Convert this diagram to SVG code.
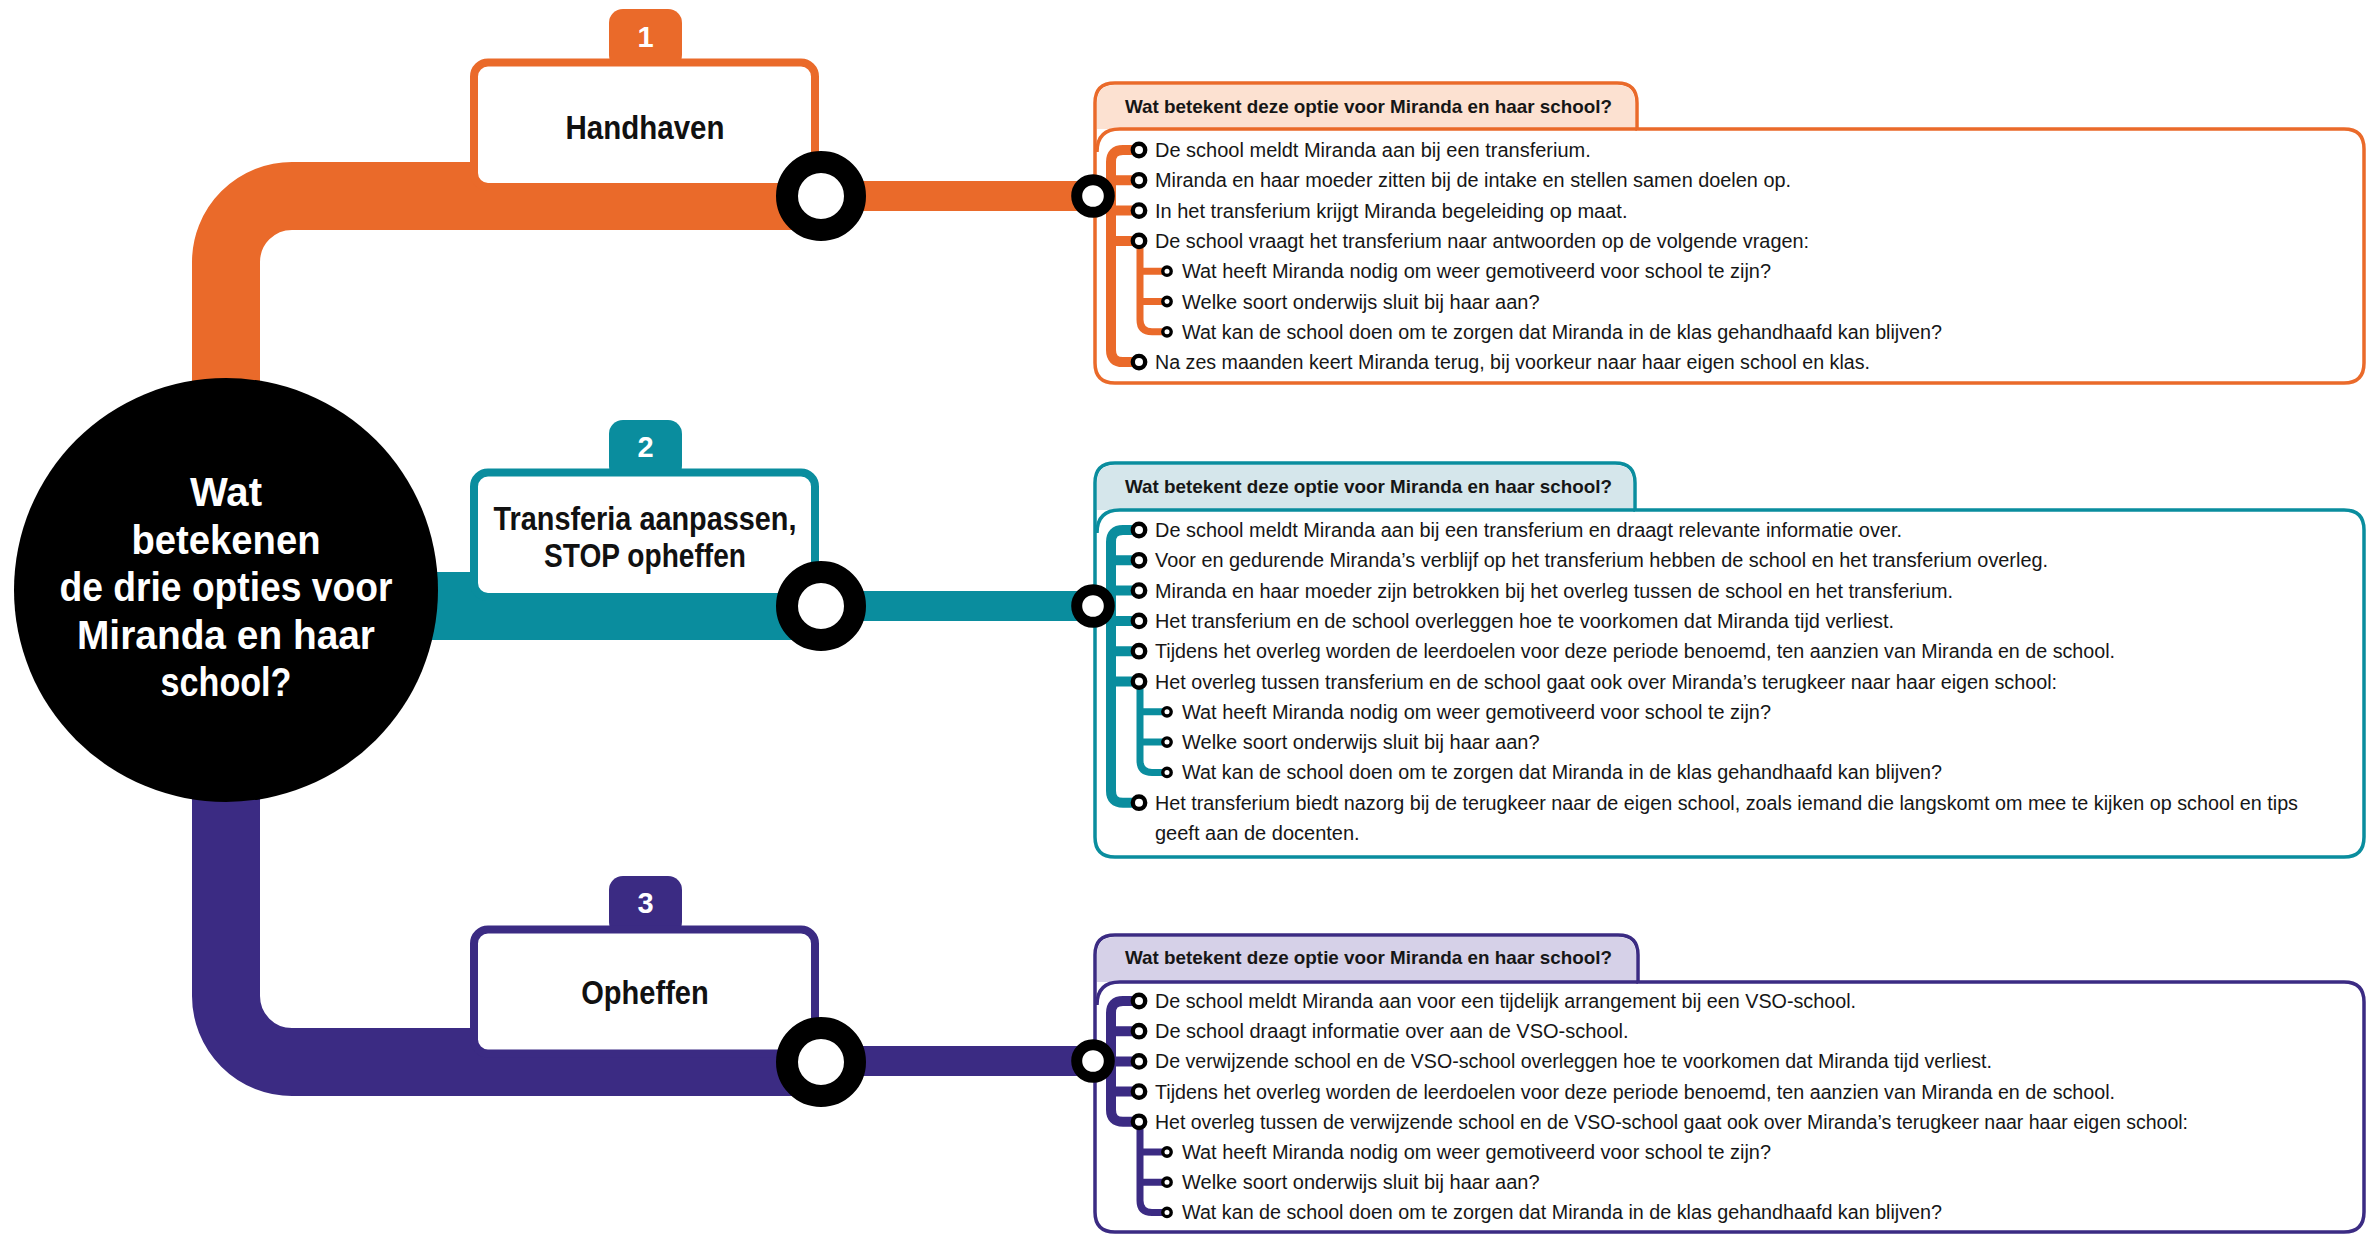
<svg xmlns="http://www.w3.org/2000/svg" width="2378" height="1234" viewBox="0 0 2378 1234">
<style>
.t{font-family:"Liberation Sans",Arial,sans-serif;font-size:20px;fill:#161616}
.h{font-family:"Liberation Sans",Arial,sans-serif;font-size:19px;font-weight:bold;fill:#161616}
.ttl{font-family:"Liberation Sans",Arial,sans-serif;font-size:33px;font-weight:bold;fill:#111;text-anchor:middle}
.ct{font-family:"Liberation Sans",Arial,sans-serif;font-size:41px;font-weight:bold;fill:#fff;text-anchor:middle}
.num{font-family:"Liberation Sans",Arial,sans-serif;font-size:29px;font-weight:bold;fill:#fff;text-anchor:middle}
.b{fill:#fff;stroke:#000;stroke-width:4.4}
.s{fill:#fff;stroke:#000;stroke-width:3.4}
.big{fill:#fff;stroke:#000;stroke-width:22}
.sm{fill:#fff;stroke:#000;stroke-width:11}
.br{fill:none;stroke-width:10;stroke-linecap:butt}
.sbr{fill:none;stroke-width:7}
.or{stroke:#EA6A2A}.te{stroke:#0A8D9E}.pu{stroke:#3B2B83}
.box{fill:#fff;stroke-width:8}
.pan{fill:#fff;stroke-width:3.5}
.pipe{fill:none;stroke-width:68}
.thin{fill:none;stroke-width:30}
</style>

<g id="connectors">
  <path class="pipe or" d="M226,430 V262 A66,66 0 0 1 292,196 H821"/>
  <path class="pipe te" d="M380,606 H821"/>
  <path class="pipe pu" d="M226,760 V996 A66,66 0 0 0 292,1062 H821"/>
  <path class="thin or" d="M821,196 H1093"/>
  <path class="thin te" d="M821,606 H1093"/>
  <path class="thin pu" d="M821,1061 H1093"/>
</g>

<g id="center">
  <circle cx="226" cy="590" r="212" fill="#000"/>
  <text class="ct" x="226" y="506" textLength="72" lengthAdjust="spacingAndGlyphs">Wat</text>
  <text class="ct" x="226" y="553.5" textLength="189" lengthAdjust="spacingAndGlyphs">betekenen</text>
  <text class="ct" x="226" y="601" textLength="333" lengthAdjust="spacingAndGlyphs">de drie opties voor</text>
  <text class="ct" x="226" y="648.5" textLength="298" lengthAdjust="spacingAndGlyphs">Miranda en haar</text>
  <text class="ct" x="226" y="696" textLength="131" lengthAdjust="spacingAndGlyphs">school?</text>
</g>

<g id="option1">
  <rect x="609" y="9" width="73" height="60" rx="14" fill="#EA6A2A"/>
  <text class="num" x="645.5" y="46.5">1</text>
  <rect class="box or" x="474" y="62.5" width="341" height="124.5" rx="14"/>
  <text class="ttl" x="645" y="139" textLength="159" lengthAdjust="spacingAndGlyphs">Handhaven</text>
</g>

<g id="option2">
  <rect x="609" y="420" width="73" height="60" rx="14" fill="#0A8D9E"/>
  <text class="num" x="645.5" y="456.5">2</text>
  <rect class="box te" x="474" y="472.5" width="341" height="124.5" rx="14"/>
  <text class="ttl" x="645" y="530" textLength="303" lengthAdjust="spacingAndGlyphs">Transferia aanpassen,</text>
  <text class="ttl" x="645" y="567" textLength="202" lengthAdjust="spacingAndGlyphs">STOP opheffen</text>
</g>

<g id="option3">
  <rect x="609" y="876" width="73" height="60" rx="14" fill="#3B2B83"/>
  <text class="num" x="645.5" y="913">3</text>
  <rect class="box pu" x="474" y="929.5" width="341" height="124" rx="14"/>
  <text class="ttl" x="645" y="1004" textLength="127.5" lengthAdjust="spacingAndGlyphs">Opheffen</text>
</g>

<g id="panel1">
  <path class="pan or" d="M1095,103 Q1095,83 1115,83 H1617 Q1637,83 1637,103 V129 H2344 Q2364,129 2364,149 V363 Q2364,383 2344,383 H1115 Q1095,383 1095,363 Z"/>
  <path fill="#FCE1D1" d="M1097,129 V103 Q1097,85 1115,85 H1617 Q1635,85 1635,103 V129 Z"/>
  <path class="or" fill="none" stroke-width="3.5" d="M1097,152 Q1097,129 1120,129 H1637"/>
  <text class="h" x="1125" y="112.5" textLength="487" lengthAdjust="spacingAndGlyphs">Wat betekent deze optie voor Miranda en haar school?</text>
  <path class="br or" d="M1139,150 H1123 Q1111,150 1111,162 V350.1 Q1111,362.1 1123,362.1 H1139 M1111,180.3 H1139 M1111,210.6 H1139 M1111,240.9 H1139"/>
  <path class="sbr or" d="M1140,241 V319.8 Q1140,331.8 1152,331.8 H1167 M1140,271.2 H1167 M1140,301.5 H1167"/>
  <circle class="b" cx="1139" cy="150" r="6.2"/>
  <circle class="b" cx="1139" cy="180.3" r="6.2"/>
  <circle class="b" cx="1139" cy="210.6" r="6.2"/>
  <circle class="b" cx="1139" cy="240.9" r="6.2"/>
  <circle class="s" cx="1167" cy="271.2" r="4.2"/>
  <circle class="s" cx="1167" cy="301.5" r="4.2"/>
  <circle class="s" cx="1167" cy="331.8" r="4.2"/>
  <circle class="b" cx="1139" cy="362.1" r="6.2"/>
  <text class="t" x="1155" y="157">De school meldt Miranda aan bij een transferium.</text>
  <text class="t" x="1155" y="187.3" textLength="636" lengthAdjust="spacingAndGlyphs">Miranda en haar moeder zitten bij de intake en stellen samen doelen op.</text>
  <text class="t" x="1155" y="217.6">In het transferium krijgt Miranda begeleiding op maat.</text>
  <text class="t" x="1155" y="247.9" textLength="654" lengthAdjust="spacingAndGlyphs">De school vraagt het transferium naar antwoorden op de volgende vragen:</text>
  <text class="t" x="1182" y="278.2" textLength="589" lengthAdjust="spacingAndGlyphs">Wat heeft Miranda nodig om weer gemotiveerd voor school te zijn?</text>
  <text class="t" x="1182" y="308.5">Welke soort onderwijs sluit bij haar aan?</text>
  <text class="t" x="1182" y="338.8" textLength="760" lengthAdjust="spacingAndGlyphs">Wat kan de school doen om te zorgen dat Miranda in de klas gehandhaafd kan blijven?</text>
  <text class="t" x="1155" y="369.1" textLength="715" lengthAdjust="spacingAndGlyphs">Na zes maanden keert Miranda terug, bij voorkeur naar haar eigen school en klas.</text>
</g>

<g id="panel2">
  <path class="pan te" d="M1095,483 Q1095,463 1115,463 H1615 Q1635,463 1635,483 V510 H2344 Q2364,510 2364,530 V837 Q2364,857 2344,857 H1115 Q1095,857 1095,837 Z"/>
  <path fill="#D5E6EB" d="M1097,510 V483 Q1097,465 1115,465 H1615 Q1633,465 1633,483 V510 Z"/>
  <path class="te" fill="none" stroke-width="3.5" d="M1097,533 Q1097,510 1120,510 H1635"/>
  <text class="h" x="1125" y="492.5" textLength="487" lengthAdjust="spacingAndGlyphs">Wat betekent deze optie voor Miranda en haar school?</text>
  <path class="br te" d="M1139,530 H1123 Q1111,530 1111,542 V790.7 Q1111,802.7 1123,802.7 H1139 M1111,560.3 H1139 M1111,590.6 H1139 M1111,620.9 H1139 M1111,651.2 H1139 M1111,681.5 H1139"/>
  <path class="sbr te" d="M1140,682 V760.4 Q1140,772.4 1152,772.4 H1167 M1140,711.8 H1167 M1140,742.1 H1167"/>
  <circle class="b" cx="1139" cy="530" r="6.2"/>
  <circle class="b" cx="1139" cy="560.3" r="6.2"/>
  <circle class="b" cx="1139" cy="590.6" r="6.2"/>
  <circle class="b" cx="1139" cy="620.9" r="6.2"/>
  <circle class="b" cx="1139" cy="651.2" r="6.2"/>
  <circle class="b" cx="1139" cy="681.5" r="6.2"/>
  <circle class="s" cx="1167" cy="711.8" r="4.2"/>
  <circle class="s" cx="1167" cy="742.1" r="4.2"/>
  <circle class="s" cx="1167" cy="772.4" r="4.2"/>
  <circle class="b" cx="1139" cy="802.7" r="6.2"/>
  <text class="t" x="1155" y="537" textLength="747" lengthAdjust="spacingAndGlyphs">De school meldt Miranda aan bij een transferium en draagt relevante informatie over.</text>
  <text class="t" x="1155" y="567.3" textLength="893" lengthAdjust="spacingAndGlyphs">Voor en gedurende Miranda’s verblijf op het transferium hebben de school en het transferium overleg.</text>
  <text class="t" x="1155" y="597.6" textLength="798" lengthAdjust="spacingAndGlyphs">Miranda en haar moeder zijn betrokken bij het overleg tussen de school en het transferium.</text>
  <text class="t" x="1155" y="627.9" textLength="739" lengthAdjust="spacingAndGlyphs">Het transferium en de school overleggen hoe te voorkomen dat Miranda tijd verliest.</text>
  <text class="t" x="1155" y="658.2" textLength="960" lengthAdjust="spacingAndGlyphs">Tijdens het overleg worden de leerdoelen voor deze periode benoemd, ten aanzien van Miranda en de school.</text>
  <text class="t" x="1155" y="688.5" textLength="902" lengthAdjust="spacingAndGlyphs">Het overleg tussen transferium en de school gaat ook over Miranda’s terugkeer naar haar eigen school:</text>
  <text class="t" x="1182" y="718.8" textLength="589" lengthAdjust="spacingAndGlyphs">Wat heeft Miranda nodig om weer gemotiveerd voor school te zijn?</text>
  <text class="t" x="1182" y="749.1">Welke soort onderwijs sluit bij haar aan?</text>
  <text class="t" x="1182" y="779.4" textLength="760" lengthAdjust="spacingAndGlyphs">Wat kan de school doen om te zorgen dat Miranda in de klas gehandhaafd kan blijven?</text>
  <text class="t" x="1155" y="809.7" textLength="1143" lengthAdjust="spacingAndGlyphs">Het transferium biedt nazorg bij de terugkeer naar de eigen school, zoals iemand die langskomt om mee te kijken op school en tips</text>
  <text class="t" x="1155" y="840">geeft aan de docenten.</text>
</g>

<g id="panel3">
  <path class="pan pu" d="M1095,955 Q1095,935 1115,935 H1618 Q1638,935 1638,955 V982 H2344 Q2364,982 2364,1002 V1212 Q2364,1232 2344,1232 H1115 Q1095,1232 1095,1212 Z"/>
  <path fill="#D6D1E8" d="M1097,982 V955 Q1097,937 1115,937 H1618 Q1636,937 1636,955 V982 Z"/>
  <path class="pu" fill="none" stroke-width="3.5" d="M1097,1005 Q1097,982 1120,982 H1638"/>
  <text class="h" x="1125" y="963.5" textLength="487" lengthAdjust="spacingAndGlyphs">Wat betekent deze optie voor Miranda en haar school?</text>
  <path class="br pu" d="M1139,1001 H1123 Q1111,1001 1111,1013 V1109.8 Q1111,1121.8 1123,1121.8 H1139 M1111,1031.2 H1139 M1111,1061.4 H1139 M1111,1091.6 H1139"/>
  <path class="sbr pu" d="M1140,1122 V1200.4 Q1140,1212.4 1152,1212.4 H1167 M1140,1152 H1167 M1140,1182.2 H1167"/>
  <circle class="b" cx="1139" cy="1001" r="6.2"/>
  <circle class="b" cx="1139" cy="1031.2" r="6.2"/>
  <circle class="b" cx="1139" cy="1061.4" r="6.2"/>
  <circle class="b" cx="1139" cy="1091.6" r="6.2"/>
  <circle class="b" cx="1139" cy="1121.8" r="6.2"/>
  <circle class="s" cx="1167" cy="1152" r="4.2"/>
  <circle class="s" cx="1167" cy="1182.2" r="4.2"/>
  <circle class="s" cx="1167" cy="1212.4" r="4.2"/>
  <text class="t" x="1155" y="1008" textLength="701" lengthAdjust="spacingAndGlyphs">De school meldt Miranda aan voor een tijdelijk arrangement bij een VSO-school.</text>
  <text class="t" x="1155" y="1038.2">De school draagt informatie over aan de VSO-school.</text>
  <text class="t" x="1155" y="1068.4" textLength="837" lengthAdjust="spacingAndGlyphs">De verwijzende school en de VSO-school overleggen hoe te voorkomen dat Miranda tijd verliest.</text>
  <text class="t" x="1155" y="1098.6" textLength="960" lengthAdjust="spacingAndGlyphs">Tijdens het overleg worden de leerdoelen voor deze periode benoemd, ten aanzien van Miranda en de school.</text>
  <text class="t" x="1155" y="1128.8" textLength="1033" lengthAdjust="spacingAndGlyphs">Het overleg tussen de verwijzende school en de VSO-school gaat ook over Miranda’s terugkeer naar haar eigen school:</text>
  <text class="t" x="1182" y="1159" textLength="589" lengthAdjust="spacingAndGlyphs">Wat heeft Miranda nodig om weer gemotiveerd voor school te zijn?</text>
  <text class="t" x="1182" y="1189.2">Welke soort onderwijs sluit bij haar aan?</text>
  <text class="t" x="1182" y="1219.4" textLength="760" lengthAdjust="spacingAndGlyphs">Wat kan de school doen om te zorgen dat Miranda in de klas gehandhaafd kan blijven?</text>
</g>

<g id="stations">
  <circle class="big" cx="821" cy="196" r="34"/>
  <circle class="big" cx="821" cy="606" r="34"/>
  <circle class="big" cx="821" cy="1062" r="34"/>
  <circle class="sm" cx="1093" cy="196" r="16.3"/>
  <circle class="sm" cx="1093" cy="606" r="16.3"/>
  <circle class="sm" cx="1093" cy="1061" r="16.3"/>
</g>
</svg>
